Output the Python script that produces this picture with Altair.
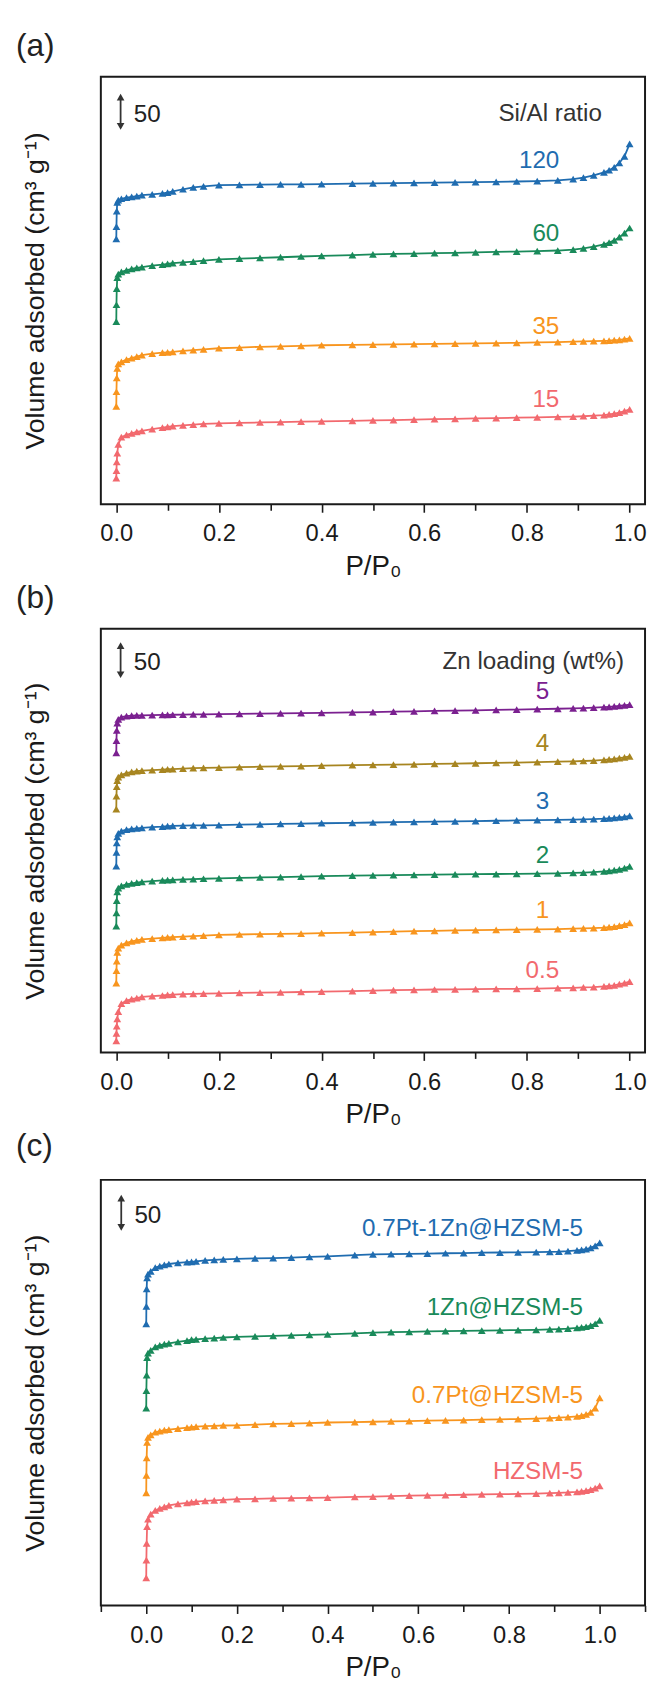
import altair as alt
import pandas as pd

FONT = "Liberation Sans"
INK = "#1a1a1a"

# relative pressure grid (P/P0) shared by all isotherms
P = [0.0001, 0.0004, 0.001, 0.002, 0.004,
     0.01, 0.02, 0.03, 0.04, 0.05,
     0.07, 0.09, 0.10, 0.11, 0.13,
     0.15, 0.17, 0.20, 0.24, 0.28,
     0.32, 0.36, 0.40, 0.46, 0.50,
     0.54, 0.58, 0.62, 0.66, 0.70,
     0.74, 0.78, 0.82, 0.86, 0.89,
     0.91, 0.93, 0.95, 0.96, 0.97,
     0.98, 0.99, 1.00]

PINK = "#F2696E"
ORANGE = "#F8951E"
GREEN = "#198A5A"
BLUE = "#1F6CB0"
PURPLE = "#7B2090"
OLIVE = "#A78520"

# ---------------- (a) Si/Al ratio ----------------
A_NAMES = ["15", "35", "60", "120"]
A_COLORS = [PINK, ORANGE, GREEN, BLUE]
A_OFFSETS = [0, 100, 220, 320]
a_15 = [36, 46, 58, 70, 82, 92, 95, 97, 99, 100.5, 103, 105, 106, 107, 108,
        109, 110, 110.8, 111.5, 112, 112.5, 113, 113.5, 114.2, 114.8,
        115.3, 116, 116.5, 117, 117.6, 118, 118.6, 119, 119.5, 120,
        120.5, 121.2, 122, 123, 124, 125.5, 127.5, 130]
a_35 = [34, 54, 73, 86, 92, 95, 98, 100, 102, 104, 106, 107.5, 108, 108.5, 110,
        111, 112, 113.5, 114.5, 115.5, 116, 116.8, 117.6, 118, 118.5,
        118.8, 119, 119.4, 119.8, 120.2, 120.6, 121, 121.5, 122, 122.5,
        123, 123.3, 123.7, 124, 124.5, 125, 126, 127]
a_60 = [30, 53, 75, 90, 95, 98, 100, 102, 103.5, 104.5, 106.5, 108, 109, 110, 111,
        112, 113.5, 115, 116, 117, 118, 119, 120, 121, 122,
        122.5, 123, 123.5, 124, 124.6, 125.2, 125.8, 126.4, 127.2, 128.5,
        130, 132.5, 135.5, 138, 141, 145.5, 151, 158]
a_120 = [43, 60, 81, 93, 96, 98, 99.5, 100.5, 101.5, 103, 104, 105.5, 106.5, 108, 111,
         113.5, 115, 116.5, 117, 117.3, 117.6, 117.8, 118, 118.6, 119,
         119.4, 119.8, 120.2, 120.5, 120.8, 121.2, 121.6, 122, 123, 125,
         127, 130, 134, 137, 141, 147, 156, 173]
A_LABEL_Y = [143, 243, 370, 469]

# ---------------- (b) Zn loading ----------------
B_NAMES = ["0.5", "1", "2", "3", "4", "5"]
B_COLORS = [PINK, ORANGE, GREEN, BLUE, OLIVE, PURPLE]
B_OFFSETS = [0, 75, 150, 225, 300, 375]
b_05 = [16, 26, 36, 46, 56, 67, 71, 73, 74.5, 76, 77, 78, 78.8, 79.2, 79.8,
        80.2, 80.6, 81, 81.5, 82, 82.4, 82.8, 83.3, 84, 84.6,
        85.2, 85.8, 86.2, 86.5, 86.8, 87, 87.2, 87.5, 88, 88.5,
        89, 89.5, 90.5, 91.2, 92, 93.5, 95, 97]
b_1 = [20, 37, 50, 62, 68, 72, 75, 77, 78.5, 79.7, 81, 82, 82.6, 83, 83.6,
       84.2, 85, 86, 86.5, 87, 87.3, 87.7, 88.5, 89, 89.6,
       90.3, 91, 91.6, 92, 92.4, 92.8, 93.2, 93.5, 94, 94.5,
       94.9, 95.3, 96, 96.6, 97.3, 98.5, 100, 102.3]
b_2 = [23, 41, 58, 70, 75, 78, 80, 81.5, 82.5, 83.5, 84.5, 85.5, 86, 86.3, 86.8,
       87.3, 87.8, 88.4, 89, 89.6, 90, 90.6, 91.4, 92, 92.4,
       92.7, 93.1, 93.4, 93.7, 94, 94.3, 94.6, 94.9, 95.3, 95.8,
       96.3, 97, 98, 98.7, 99.5, 100.8, 102.5, 104.7]
b_3 = [30, 49, 62, 70, 75, 78, 80, 81, 81.8, 82.5, 83.5, 84.3, 85, 85.3, 85.6,
       85.8, 86, 86.3, 86.8, 87.3, 87.8, 88.3, 88.8, 89.3, 89.8,
       90.2, 90.6, 91, 91.4, 91.8, 92.2, 92.6, 93, 93.3, 93.6,
       94, 94.4, 95, 95.5, 96, 96.8, 97.6, 98.8]
b_4 = [33, 51, 64, 72, 77, 80, 82.5, 84, 85, 85.7, 86.5, 87.2, 87.7, 88, 88.6,
       89.2, 89.6, 90, 90.6, 91.2, 91.6, 92.1, 92.6, 93.2, 93.6,
       94, 94.5, 95, 95.4, 95.9, 96.4, 96.9, 97.5, 98, 98.6,
       99, 99.6, 100.5, 101.2, 102, 103, 104, 105.3]
b_5 = [35, 52, 66, 76, 81, 84, 85.5, 86, 86.3, 86.6, 86.8, 87, 87.1, 87.3, 87.5,
       87.7, 87.9, 88.1, 88.5, 88.8, 89.2, 89.6, 90, 90.6, 91,
       91.5, 92, 92.5, 93, 93.4, 93.9, 94.4, 95, 95.5, 96.1,
       96.5, 97, 97.7, 98.2, 98.8, 99.5, 100.3, 101.3]
B_LABEL_Y = [112, 193, 269, 343, 422, 494]

# ---------------- (c) catalysts ----------------
C_NAMES = ["HZSM-5", "0.7Pt@HZSM-5", "1Zn@HZSM-5", "0.7Pt-1Zn@HZSM-5"]
C_COLORS = [PINK, ORANGE, GREEN, BLUE]
C_OFFSETS = [0, 110, 225, 340]
c_h = [38, 62, 85, 108, 118, 125, 130, 133, 135, 137, 139, 140.5, 141.5, 142, 143,
       143.8, 144.5, 145.5, 146, 146.5, 146.8, 147.2, 147.7, 148.5, 149,
       149.6, 150.2, 150.7, 151.1, 151.5, 151.9, 152.3, 152.6, 153, 153.6,
       154, 154.6, 155.5, 156.2, 157, 158.5, 160.5, 163.6]
c_pt = [44, 68, 92, 113, 120, 123.5, 127, 128.5, 129.8, 130.7, 132, 133.2, 134, 134.5, 135.2,
        135.8, 136.2, 136.5, 137.5, 138.3, 138.8, 139.5, 140.3, 140.8, 141.3,
        141.7, 142.2, 142.7, 143.2, 143.6, 144.1, 144.6, 145, 145.6, 146.3,
        146.8, 147.5, 148.6, 149.8, 151.3, 154, 160, 174]
c_zn = [45, 69, 90, 114, 120, 124, 128.8, 130.8, 132.4, 133.6, 135.5, 137.3, 138.5, 139, 140,
        140.8, 141.5, 142.3, 143, 143.8, 144.4, 145, 145.7, 147, 148.2,
        148.8, 149.3, 149.8, 150.2, 150.6, 151, 151.3, 151.6, 152, 152.5,
        153, 153.6, 154.6, 155.3, 156.2, 157.8, 160.3, 165]
c_ptzn = [45, 69, 93, 108, 113, 117, 122, 124, 125.8, 127, 128.5, 129.5, 130, 130.6, 131.8,
          132.6, 133.3, 134, 134.6, 135.1, 135.7, 136.6, 137.5, 139, 140,
          140.4, 140.8, 141.3, 141.7, 142, 142.4, 142.7, 143, 143.3, 143.7,
          144, 144.6, 145.5, 146.3, 147.3, 149, 151.8, 156]
C_LABEL_Y = [183, 287, 407, 515]

SCALE_BAR = 50          # cm3 g-1 represented by the double arrow
BAR_BASE = 512
TICKS_AB = [round(0.1 * k, 1) for k in range(0, 11)]
TICKS_C = [round(0.1 * k, 1) for k in range(-1, 12)]

MAJOR = "round(datum.value*10) % 2 == 0"


def build_panel(tag, tag_y, names, colors, offsets, series, label_y, label_x, label_align,
                header, header_x, x_domain, ticks, height, y_top, bar_x, bar_text_x):
    rows = []
    for name, col, off, vals in zip(names, colors, offsets, series):
        for i, (p, v) in enumerate(zip(P, vals)):
            rows.append({"p": p, "v": v + off, "s": name, "c": col, "i": i})
    df = pd.DataFrame(rows)

    xs = alt.Scale(domain=x_domain, nice=False, zero=False)
    ys = alt.Scale(domain=[0, y_top], nice=False, zero=False)

    x_axis = alt.Axis(
        values=ticks, labelExpr=MAJOR + " ? format(datum.value, '.1f') : ''",
        tickSize={"condition": {"test": MAJOR, "value": 8}, "value": 6},
        tickWidth=1.6, tickColor=INK, domain=False, grid=False,
        labelFontSize=24, labelPadding=10, labelColor=INK, labelFont=FONT,
        labelFlush=False, labelOverlap=False,
        title="P/P\u2080", titleFontSize=28, titleFont=FONT, titleColor=INK,
        titleFontWeight="normal", titlePadding=7)
    y_axis = alt.Axis(
        labels=False, ticks=False, domain=False, grid=False,
        title="Volume adsorbed (cm\u00b3 g\u207b\u00b9)", titleFontSize=27,
        titleFont=FONT, titleColor=INK, titleFontWeight="normal", titlePadding=52)

    X = lambda f: alt.X(f, scale=xs, axis=x_axis)
    Y = lambda f: alt.Y(f, scale=ys, axis=y_axis)
    COL = alt.Color("c:N", scale=None)

    line = alt.Chart(df).mark_line(strokeWidth=1.8).encode(
        x=X("p:Q"), y=Y("v:Q"), color=COL, detail="s:N", order="i:Q")
    pts = alt.Chart(df).mark_point(shape="triangle-up", filled=True, size=62, opacity=1).encode(
        x=X("p:Q"), y=Y("v:Q"), color=COL)

    lab_df = pd.DataFrame({"t": names, "p": [label_x] * len(names), "v": label_y, "c": colors})
    labels = alt.Chart(lab_df).mark_text(
        align=label_align, baseline="middle", fontSize=24.5, font=FONT).encode(
        x=X("p:Q"), y=Y("v:Q"), text="t:N", color=COL)

    layers = [line, pts, labels]
    if header:
        hdf = pd.DataFrame({"t": [header], "p": [header_x], "v": [BAR_BASE + SCALE_BAR / 2 - 3]})
        layers.append(alt.Chart(hdf).mark_text(
            align="right", baseline="middle", fontSize=24.5, font=FONT, color="#333").encode(
            x=X("p:Q"), y=Y("v:Q"), text="t:N"))

    bar = pd.DataFrame({"p": [bar_x], "v": [BAR_BASE + 4], "v2": [BAR_BASE + SCALE_BAR - 4]})
    layers.append(alt.Chart(bar).mark_rule(color="#333", strokeWidth=1.8).encode(
        x=X("p:Q"), y=Y("v:Q"), y2="v2:Q"))
    heads = pd.DataFrame({"p": [bar_x, bar_x],
                          "v": [BAR_BASE + SCALE_BAR - 5, BAR_BASE + 5],
                          "sh": ["triangle-up", "triangle-down"]})
    layers.append(alt.Chart(heads).mark_point(filled=True, size=60, opacity=1, color="#333").encode(
        x=X("p:Q"), y=Y("v:Q"), shape=alt.Shape("sh:N", scale=None)))
    fdf = pd.DataFrame({"t": [str(SCALE_BAR)], "p": [bar_text_x], "v": [BAR_BASE + SCALE_BAR / 2 - 4]})
    layers.append(alt.Chart(fdf).mark_text(
        align="left", baseline="middle", fontSize=24.5, font=FONT, color="#222").encode(
        x=X("p:Q"), y=Y("v:Q"), text="t:N"))

    tdf = pd.DataFrame({"t": [tag]})
    layers.append(alt.Chart(tdf).mark_text(
        align="left", baseline="middle", fontSize=32, font=FONT, color="#222").encode(
        text="t:N", x=alt.value(-86), y=alt.value(tag_y)))

    return alt.layer(*layers).properties(width=551, height=height)


pa = build_panel("(a)", -31, A_NAMES, A_COLORS, A_OFFSETS, [a_15, a_35, a_60, a_120],
                 A_LABEL_Y, 0.863, "right", "Si/Al ratio", 0.946,
                 [-0.03, 1.03], TICKS_AB, 433, 585, 0.0085, 0.034)
pb = build_panel("(b)", -31, B_NAMES, B_COLORS, B_OFFSETS, [b_05, b_1, b_2, b_3, b_4, b_5],
                 B_LABEL_Y, 0.83, "center", "Zn loading (wt%)", 0.989,
                 [-0.03, 1.03], TICKS_AB, 429, 580, 0.0085, 0.034)
pc = build_panel("(c)", -34, C_NAMES, C_COLORS, C_OFFSETS, [c_h, c_pt, c_zn, c_ptzn],
                 C_LABEL_Y, 0.963, "right", None, None,
                 [-0.1, 1.1], TICKS_C, 431, 582, -0.055, -0.026)

chart = alt.vconcat(pa, pb, pc, spacing=0).resolve_scale(
    x="independent", y="independent"
).properties(
    padding={"left": 7, "top": 11, "right": 0, "bottom": 0}
).configure_view(stroke=INK, strokeWidth=2)

chart.save("out.html", embed_options={"renderer": "svg", "actions": False})
